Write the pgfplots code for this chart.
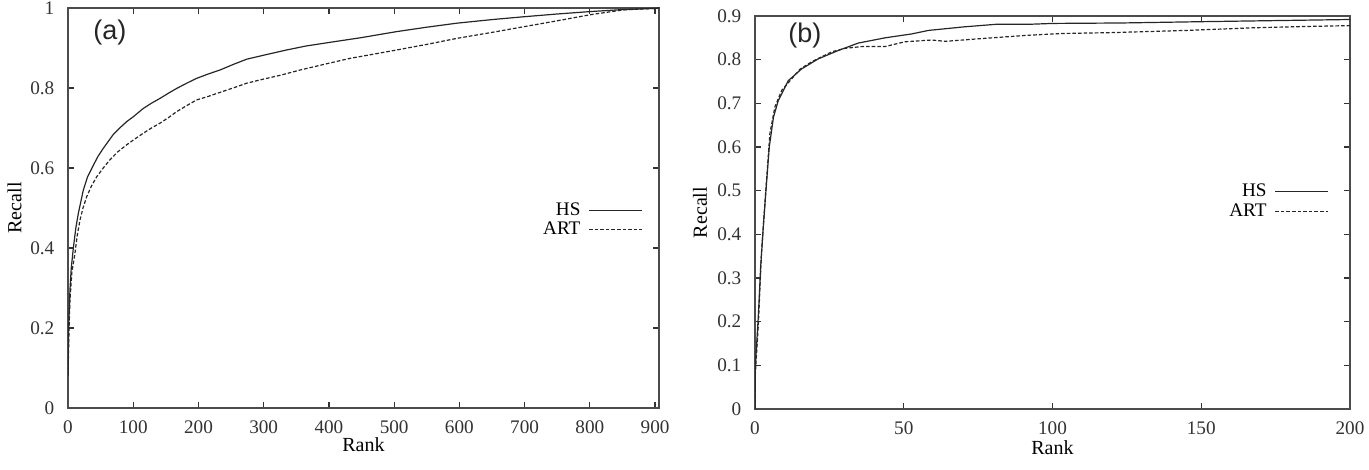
\documentclass[border=0pt]{standalone}
\usepackage{pgfplots}
\pgfplotsset{compat=1.18}
\usepackage{fontspec}
\setmainfont{Liberation Serif}
\newfontfamily\sansf{Liberation Sans}
\pgfplotsset{rc/.style={
  scale only axis,
  axis line style={black!70, line width=0.8pt},
  tick align=inside, major tick length=3pt,
  tick style={black!80, line width=0.6pt},
  ticklabel style={font=\fontsize{9.6}{10.5}\selectfont, text=black!80},
  /pgf/number format/assume math mode=true,
  xticklabel style={yshift=-3.0pt},
  yticklabel style={xshift=-3.3pt},
  label style={font=\fontsize{9.6}{10.5}\selectfont, text=black!80},
  every axis x label/.style={anchor=center},
  every axis y label/.style={anchor=center, rotate=90},
  legend plot pos=right, legend cell align=right,
  legend style={draw=none, fill=none, inner sep=0pt, font=\fontsize{9.6}{10.5}\selectfont,
    nodes={inner sep=1pt}, /tikz/column sep=3pt, row sep=0pt},
  legend image code/.code={\draw[##1] (0pt,0pt) -- (26.5pt,0pt);},
  hs/.style={black!85, line width=0.6pt},
  art/.style={black!85, line width=0.6pt, dash pattern=on 1.8pt off 1pt},
}}
\begin{document}
\begin{tikzpicture}
\useasboundingbox (0,0) rectangle (684.5pt,235pt);
\begin{axis}[rc, at={(34pt,31pt)}, anchor=south west, width=295.5pt, height=200pt,
  xmin=0, xmax=906, ymin=0, ymax=1,
  xtick={0,100,...,900}, ytick={0,0.2,0.4,0.6,0.8,1},
  xlabel={Rank}, ylabel={Recall},
  x label style={at={(rel axis cs:0.5,-0.0925)}},
  y label style={at={(rel axis cs:-0.0905,0.5)}},
  legend style={at={(rel axis cs:0.973,0.47)}, anchor=east}]
\addplot[hs] coordinates {(0,0.085)(1,0.2)(3,0.295)(5,0.35)(8.2,0.40)(12,0.45)(15.9,0.487)(23.5,0.545)(30,0.578)(38.9,0.607)(46,0.629)(54,0.649)(62,0.667)(69.5,0.684)(80,0.701)(90,0.716)(100,0.728)(115.5,0.749)(128,0.762)(141,0.774)(155,0.788)(166.7,0.799)(182,0.812)(197,0.824)(215,0.835)(233,0.845)(255,0.86)(274,0.872)(300,0.882)(335,0.895)(365,0.905)(401,0.914)(450,0.926)(504,0.941)(550,0.952)(596,0.962)(650,0.971)(698,0.978)(750,0.985)(800,0.991)(850,0.996)(900,0.999)(906,1.0)};
\addlegendentry{HS}
\addplot[art] coordinates {(0,0.08)(1.5,0.19)(3,0.27)(6,0.34)(10.7,0.387)(14,0.43)(18.4,0.47)(23,0.50)(28.6,0.528)(36,0.555)(44,0.578)(54,0.6)(64,0.62)(76,0.64)(90,0.658)(102,0.672)(115.5,0.687)(128,0.70)(141,0.712)(154,0.726)(166.7,0.741)(182,0.756)(197,0.77)(215,0.779)(233,0.789)(253,0.80)(274,0.812)(299,0.822)(326,0.832)(356,0.845)(395,0.86)(432,0.874)(470,0.885)(504,0.895)(550,0.909)(596,0.924)(650,0.939)(698,0.953)(750,0.968)(800,0.983)(850,0.995)(900,0.999)(906,1.0)};
\addlegendentry{ART}
\node[font=\sansf\fontsize{13.5}{14}\selectfont, text=black!85] at (rel axis cs:0.071,0.939) {(a)};
\end{axis}
\begin{axis}[rc, at={(377.5pt,30.5pt)}, anchor=south west, width=297.5pt, height=196.5pt,
  xmin=0, xmax=200, ymin=0, ymax=0.9,
  xtick={0,50,100,150,200}, ytick={0,0.1,0.2,0.3,0.4,0.5,0.6,0.7,0.8,0.9},
  xlabel={Rank}, ylabel={Recall},
  x label style={at={(rel axis cs:0.5,-0.0975)}},
  y label style={at={(rel axis cs:-0.0924,0.5)}},
  legend style={at={(rel axis cs:0.965,0.528)}, anchor=east}]
\addplot[hs] coordinates {(0,0)(0.1,0.097)(1.1,0.211)(1.9,0.326)(2.8,0.418)(3.7,0.502)(4.8,0.6)(6.2,0.668)(7.8,0.706)(11.2,0.752)(15.7,0.779)(21.3,0.802)(28,0.821)(34.7,0.838)(43.7,0.85)(52.7,0.859)(58.3,0.867)(70,0.875)(81,0.881)(92,0.881)(100,0.883)(122.7,0.884)(150,0.887)(170,0.889)(200,0.892)};
\addlegendentry{HS}
\addplot[art] coordinates {(0,0)(0.1,0.08)(1.1,0.19)(2.2,0.36)(3.4,0.479)(5,0.631)(6.7,0.692)(9,0.73)(11.8,0.752)(15.1,0.778)(19,0.795)(25.8,0.818)(30.3,0.826)(35.9,0.83)(43.7,0.83)(50.4,0.841)(59.4,0.845)(64,0.842)(75.5,0.848)(92,0.856)(103.6,0.86)(120,0.862)(145,0.867)(167.5,0.873)(185,0.876)(200,0.878)};
\addlegendentry{ART}
\node[font=\sansf\fontsize{13.5}{14}\selectfont, text=black!85] at (rel axis cs:0.084,0.95) {(b)};
\end{axis}
\end{tikzpicture}
\end{document}
